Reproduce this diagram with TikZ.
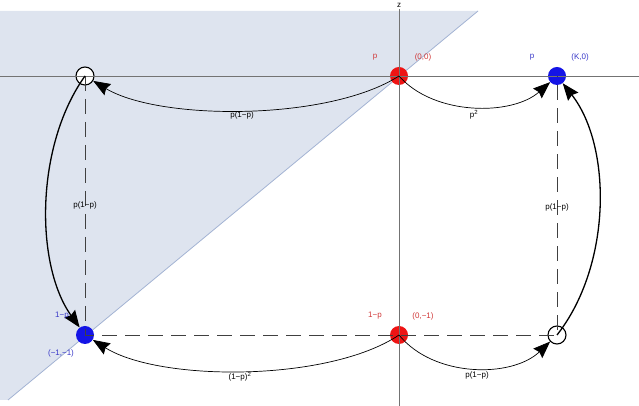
\documentclass[tikz,border=0pt]{standalone}
\usepackage{fontspec}
\setmainfont{Liberation Sans}
\usetikzlibrary{arrows.meta}
\definecolor{regionfill}{HTML}{DEE4EF}
\definecolor{regionedge}{HTML}{A3B3D3}
\definecolor{dotred}{HTML}{EE1414}
\definecolor{dotblue}{HTML}{1414E6}
\definecolor{labred}{HTML}{D03838}
\definecolor{labblue}{HTML}{3838C8}
\begin{document}
\begin{tikzpicture}[x=1pt,y=1pt,
  dot/.style={circle,inner sep=0pt,minimum size=18pt},
  hole/.style={circle,draw,line width=1.1pt,fill=white,inner sep=0pt,minimum size=18pt},
  guide/.style={dash pattern=on 15pt off 8pt,line width=0.8pt,black!75},
  flow/.style={-{Stealth[length=17pt,width=13pt,inset=2pt]},line width=0.7pt},
  jump/.style={flow,line width=1.3pt},
  lab/.style={font=\fontsize{8}{9}\selectfont,inner sep=1pt}]
\useasboundingbox (0,0) rectangle (639,406);
% region z > x
\fill[regionfill] (0,395) -- (478,395) -- (8,6) -- (0,6) -- cycle;
\draw[regionedge,line width=0.8pt] (478,395) -- (8,6);
% states
\node[dot,fill=dotred] (p00) at (399,330) {};
\node[dot,fill=dotblue] (pK0) at (557,330) {};
\node[hole] (pm10) at (85,330) {};
\node[dot,fill=dotblue] (pm1m1) at (85,71) {};
\node[dot,fill=dotred] (p0m1) at (399,71) {};
\node[hole] (pKm1) at (557,71) {};
% axes
\draw[black!55,line width=0.7pt] (0,330) -- (639,330);
\draw[black!55,line width=0.7pt] (399,0) -- (399,397);
\node[lab] (zlab) at (399,401) {z};
\draw[guide] (pm10.center) -- (pm1m1.center) -- (pKm1.center) -- (pK0.center);
% transitions
\draw[flow] (p00.center) .. controls +(-70,-45) and +(75,-45) .. (pm10);
\draw[flow] (p00.center) .. controls +(35,-40) and +(-45,-40) .. (pK0);
\draw[flow] (p0m1.center) .. controls +(-70,-47) and +(75,-47) .. (pm1m1);
\draw[flow] (p0m1.center) .. controls +(35,-43) and +(-45,-43) .. (pKm1);
\draw[jump] (pm10.center) .. controls +(-50,-70) and +(-50,70) .. (pm1m1);
\draw[jump] (pKm1.center) .. controls +(55,70) and +(55,-70) .. (pK0);
% labels
\node[lab,labred] (w00) at (375,349) {p};
\node[lab,labred] (c00) at (423,349) {(0,0)};
\node[lab,labblue] (wK0) at (532,349) {p};
\node[lab,labblue] (cK0) at (580,349) {(K,0)};
\node[lab,labred] (w0m1) at (375,90) {1−p};
\node[lab,labred] (c0m1) at (423,90) {(0,−1)};
\node[lab,labblue] (wm1m1) at (62,90) {1−p};
\node[lab,labblue] (cm1m1) at (61,53) {(−1,−1)};
\node[lab] (t1) at (242,291) {p(1−p)};
\node[lab] (t2) at (474,291) {p\textsuperscript{2}};
\node[lab] (t3) at (240,29) {(1−p)\textsuperscript{2}};
\node[lab] (t4) at (477,31) {p(1−p)};
\node[lab] (t5) at (85,201) {p(1−p)};
\node[lab] (t6) at (557,199) {p(1−p)};
\end{tikzpicture}
\end{document}
